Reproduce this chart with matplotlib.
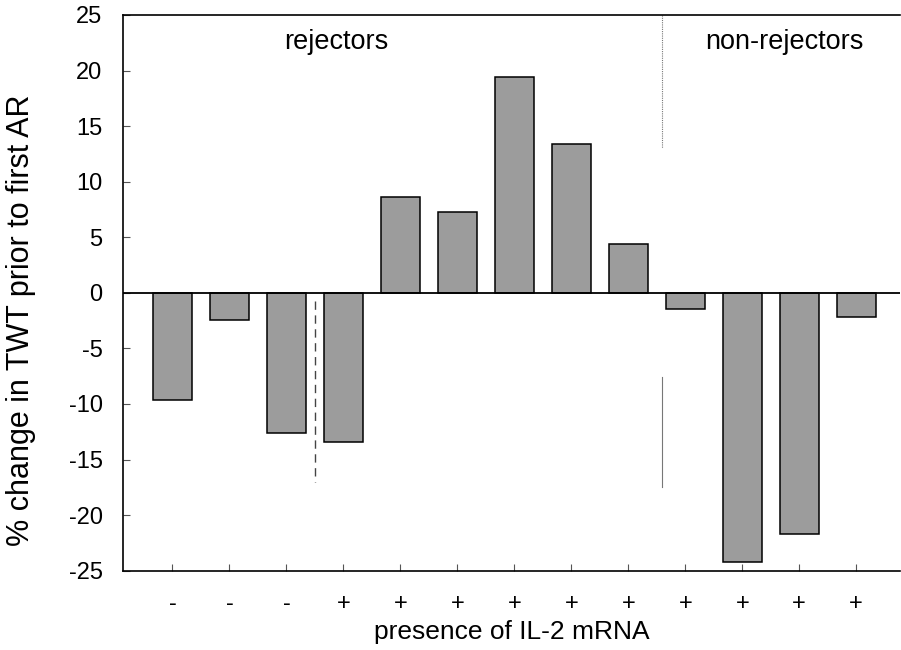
import numpy as np
import matplotlib.pyplot as plt

plt.rcParams['font.family'] = ['Liberation Sans', 'DejaVu Sans']

# % change in TWT per patient, rejectors first then non-rejectors
il2 = ['-', '-', '-', '+', '+', '+', '+', '+', '+', '+', '+', '+', '+']
change = [-9.6, -2.4, -12.6, -13.4, 8.6, 7.3, 19.4, 13.4, 4.4, -1.5, -24.2, -21.7, -2.2]
yticks = [25, 20, 15, 10, 5, 0, -5, -10, -15, -20, -25]

x = np.arange(len(change))

fig = plt.figure(figsize=(9.01, 6.5), dpi=100)
ax = fig.add_axes([0.137, 0.122, 0.862, 0.855])

ax.bar(x, change, width=0.68, color='#9c9c9c', edgecolor='black', linewidth=1.1, zorder=2)
ax.axhline(0, color='black', linewidth=1.3, zorder=3)

# group separators
ax.plot([2.5, 2.5], [-0.7, -17], color='#444444', linewidth=1, linestyle=(0, (6, 4)), zorder=1)
ax.plot([8.6, 8.6], [25, 13], color='#777777', linewidth=0.8, linestyle=(0, (1, 1)), zorder=1)
ax.plot([8.6, 8.6], [-7.6, -17.5], color='#777777', linewidth=0.8, zorder=1)

ax.text(2.87, 22.55, 'rejectors', fontsize=19.5, ha='center', va='center')
ax.text(10.74, 22.55, 'non-rejectors', fontsize=19.5, ha='center', va='center')

ax.set_xlim(-0.86, 12.77)
ax.set_ylim(-25, 25)
ax.set_xticks(x)
ax.set_xticklabels(il2, fontsize=17)
ax.set_yticks(yticks)
ax.set_yticklabels([str(v) for v in yticks], fontsize=17)
ax.tick_params(axis='both', direction='in', length=5, width=0.8, color='#555555')
ax.tick_params(axis='x', pad=16)
ax.tick_params(axis='y', pad=15)

ax.set_ylabel('% change in TWT prior to first AR', fontsize=22)
ax.yaxis.set_label_coords(-0.113, 0.45)
ax.set_xlabel('presence of IL-2 mRNA', fontsize=19, labelpad=4)

ax.spines['right'].set_visible(False)
for s in ['left', 'top', 'bottom']:
    ax.spines[s].set_linewidth(1.2)

fig.savefig('out.png', dpi=100)
